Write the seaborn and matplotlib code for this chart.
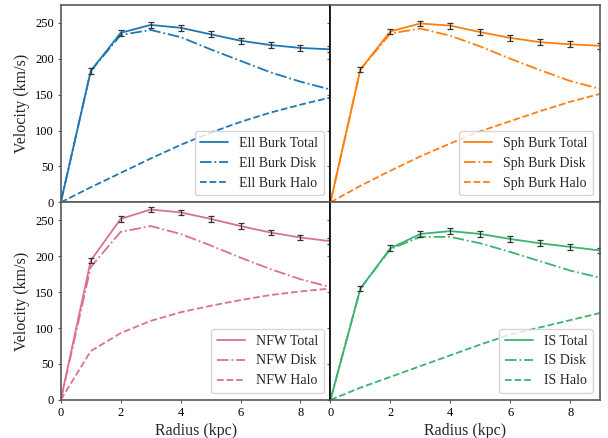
import numpy as np
import pandas as pd
import seaborn as sns
import matplotlib
matplotlib.use("Agg")
import matplotlib.pyplot as plt

radius = [0, 1, 2, 3, 4, 5, 6, 7, 8, 9]

models = ["Ell Burk", "Sph Burk", "NFW", "IS"]
model_colors = ["#1f77b4", "#ff7f0e", "#db7093", "#3cb371"]

ell_total = [0, 183, 236, 247, 243, 234, 225, 219, 215, 213]
ell_disk = [0, 183, 233, 240, 230, 213, 197, 181, 168, 157]
ell_halo = [0, 21, 41, 61, 80, 97, 112, 125, 136, 146]

sph_total = [0, 185, 238, 249, 246, 237, 229, 223, 220, 218]
sph_disk = [0, 185, 235, 242, 232, 217, 200, 184, 169, 158]
sph_halo = [0, 23, 44, 64, 82, 99, 113, 127, 140, 151]

nfw_total = [0, 194, 252, 265, 261, 252, 242, 233, 226, 221]
nfw_disk = [0, 185, 234, 242, 231, 215, 198, 182, 168, 157]
nfw_halo = [0, 68, 93, 110, 122, 131, 139, 146, 151, 155]

is_total = [0, 155, 211, 231, 235, 231, 224, 218, 213, 208]
is_disk = [0, 155, 210, 227, 227, 218, 206, 193, 180, 170]
is_halo = [0, 17, 32, 47, 62, 77, 91, 101, 111, 121]

total_err = [0, 4, 4, 4, 4, 4, 4, 4, 4, 4]

totals = [ell_total, sph_total, nfw_total, is_total]
disks = [ell_disk, sph_disk, nfw_disk, is_disk]
halos = [ell_halo, sph_halo, nfw_halo, is_halo]

sns.set_style("ticks")
plt.rcParams["font.family"] = ["Liberation Serif", "DejaVu Serif"]

fig, axes = plt.subplots(2, 2, figsize=(6.08, 4.38), dpi=100, sharex=True, sharey=True)
fig.subplots_adjust(left=0.1, right=0.987, top=0.989, bottom=0.087, wspace=0, hspace=0)

for i, ax in enumerate(axes.flat):
    name = models[i]
    c = model_colors[i]
    sns.lineplot(x=radius, y=totals[i], ax=ax, color=c, lw=1.3, label=f"{name} Total")
    sns.lineplot(x=radius, y=disks[i], ax=ax, color=c, lw=1.3, linestyle="-.", label=f"{name} Disk")
    sns.lineplot(x=radius, y=halos[i], ax=ax, color=c, lw=1.3, linestyle="--", label=f"{name} Halo")
    ax.errorbar(radius[1:], totals[i][1:], yerr=total_err[1:], fmt="none",
                ecolor="0.2", elinewidth=0.9, capsize=2, capthick=0.9)
    ax.set_xlim(0, 9)
    ax.set_ylim(0, 275)
    ax.set_xticks([0, 2, 4, 6, 8])
    ax.set_yticks([0, 50, 100, 150, 200, 250])
    ax.legend(loc="lower right", fontsize=10, framealpha=0.8, edgecolor="0.8")
    for s in ax.spines.values():
        s.set_color("0.35")
        s.set_linewidth(1.2)
    ax.tick_params(colors="0.35", labelcolor="black", labelsize=9, length=2.5, pad=2.5)
    ax.set_xlabel("")
    ax.set_ylabel("")

for ax in axes[:, 1]:
    ax.spines["left"].set_color("black")

for ax in axes[:, 0]:
    ax.set_ylabel("Velocity (km/s)", fontsize=11.5, labelpad=4)
for ax in axes[1, :]:
    ax.set_xlabel("Radius (kpc)", fontsize=11.5, labelpad=3)

plt.savefig("out.png", dpi=100)
